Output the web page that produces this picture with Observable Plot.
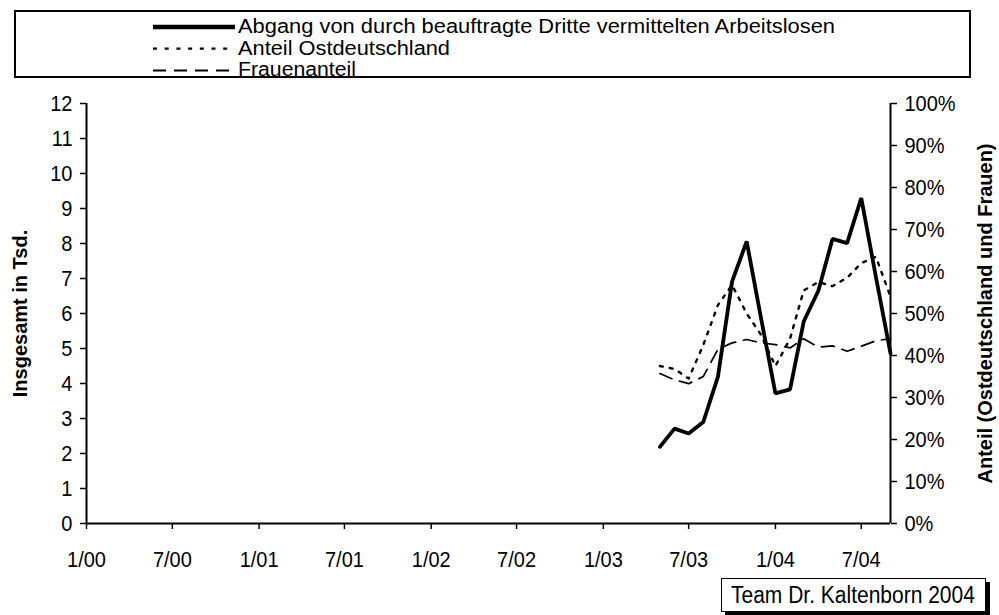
<!DOCTYPE html>
<html><head><meta charset="utf-8">
<script src="https://cdn.jsdelivr.net/npm/d3@7"></script>
<script src="https://cdn.jsdelivr.net/npm/@observablehq/plot@0.6"></script>
<style>
body{margin:0;background:#fff;font-family:"Liberation Sans",Arial,sans-serif;}
#wrap{position:relative;width:999px;height:615px;overflow:hidden;background:#fff;}
#wrap svg{position:absolute;left:0;top:0;}
#footer{position:absolute;left:721px;top:578px;width:254px;height:32px;border:1.5px solid #000;background:#fff;box-shadow:4px 4px 0 #000;padding-left:9px;box-sizing:content-box;white-space:nowrap;}
</style></head><body><div id="wrap"></div>
<script>
// Data (monthly, 5/03 .. 9/04)
const months = ["2003-05","2003-06","2003-07","2003-08","2003-09","2003-10","2003-11","2003-12",
                "2004-01","2004-02","2004-03","2004-04","2004-05","2004-06","2004-07","2004-08","2004-09"];
const abgang = [2.19,2.71,2.57,2.90,4.19,6.91,8.06,5.90,3.72,3.83,5.77,6.65,8.13,8.01,9.30,7.05,4.86]; // Tsd.
const anteilOst = [37.5,36.8,34.5,42.5,52.0,56.8,50.0,45.0,37.5,44.0,55.5,57.5,56.5,58.5,62.0,63.5,54.0]; // %
const frauenAnteil = [35.7,34.2,33.3,35.0,41.5,43.0,43.8,43.0,42.6,41.8,44.0,42.0,42.3,41.0,42.2,43.5,44.0]; // %

const xTickDates = ["2000-01","2000-07","2001-01","2001-07","2002-01","2002-07","2003-01","2003-07","2004-01","2004-07"];
const xTickLabels = ["1/00","7/00","1/01","7/01","1/02","7/02","1/03","7/03","1/04","7/04"];
const leftTicks = [0,1,2,3,4,5,6,7,8,9,10,11,12];
const rightTicks = [0,10,20,30,40,50,60,70,80,90,100];

const legendItems = ["Abgang von durch beauftragte Dritte vermittelten Arbeitslosen","Anteil Ostdeutschland","Frauenanteil"];
const leftTitle = "Insgesamt in Tsd.";
const rightTitle = "Anteil (Ostdeutschland und Frauen)";
const footerText = "Team Dr. Kaltenborn 2004";

const parse = d3.utcParse("%Y-%m");
const yMax = 12, pMax = 100;
const rows = months.map((m,i)=>({date:parse(m), abgang:abgang[i], ost:anteilOst[i]*yMax/pMax, frauen:frauenAnteil[i]*yMax/pMax}));
const xTicks = xTickDates.map(parse);
const domainX = [parse("2000-01"), parse("2004-09")];
const FONT = "Liberation Sans, Arial, sans-serif";
const STRETCH = 1.13;

const chart = Plot.plot({
  width:999, height:615,
  marginTop:103, marginBottom:92, marginLeft:86, marginRight:109,
  style:{fontFamily:FONT, fontSize:"20px", color:"#000", background:"transparent"},
  x:{type:"utc", domain:domainX},
  y:{domain:[0,yMax]},
  marks:[
    Plot.axisY({ticks:leftTicks, tickSize:6, tickPadding:8, tickFormat:d=>String(d), label:null, stroke:"#000", strokeWidth:1.5}),
    Plot.axisY({anchor:"right", ticks:rightTicks.map(p=>p*yMax/pMax), tickSize:6, tickPadding:8,
      tickFormat:v=>Math.round(v/yMax*pMax)+"%", label:null, stroke:"#000", strokeWidth:1.5}),
    Plot.axisX({ticks:xTicks, tickSize:6, tickPadding:21, tickFormat:d=>xTickLabels[xTicks.findIndex(t=>+t===+d)], label:null, stroke:"#000", strokeWidth:1.5}),
    Plot.ruleX([domainX[0]], {stroke:"#000", strokeWidth:2}),
    Plot.ruleX([domainX[1]], {stroke:"#000", strokeWidth:2}),
    Plot.ruleY([0], {stroke:"#000", strokeWidth:2}),
    Plot.line(rows, {x:"date", y:"frauen", stroke:"#000", strokeWidth:1.7, strokeDasharray:"13,8"}),
    Plot.line(rows, {x:"date", y:"ost", stroke:"#000", strokeWidth:2.4, strokeDasharray:"3,7"}),
    Plot.line(rows, {x:"date", y:"abgang", stroke:"#000", strokeWidth:3.8, strokeLinejoin:"miter"}),
    Plot.text([leftTitle], {frameAnchor:"left", dx:-66, rotate:-90, textAnchor:"middle", fontWeight:"bold", fontSize:20, fill:"#000"}),
    Plot.text([rightTitle], {frameAnchor:"right", dx:95, rotate:-90, textAnchor:"middle", fontWeight:"bold", fontSize:20, fill:"#000"})
  ]
});
const wrap = document.getElementById("wrap");
wrap.appendChild(chart);

// vertical stretch of horizontal axis labels (as in the reference rendering)
d3.select(chart).selectAll("g[aria-label$='tick label'] text").each(function(){
  const t = this.getAttribute("transform");
  if (t && t.includes("translate")) {
    this.setAttribute("transform", t + ` scale(1,${STRETCH})`);
  } else {
    const x = +this.getAttribute("x") || 0, y = +this.getAttribute("y") || 0;
    this.removeAttribute("x"); this.removeAttribute("y");
    this.setAttribute("transform", `translate(${x},${y}) scale(1,${STRETCH})`);
  }
});

// legend
const ls = d3.select(wrap).append("svg").attr("width",999).attr("height",100);
ls.append("rect").attr("x",15).attr("y",11).attr("width",955).attr("height",66)
  .attr("fill","#fff").attr("stroke","#000").attr("stroke-width",2);
const styles = [{w:4.5,d:null},{w:2.2,d:"4,7.7"},{w:1.8,d:"13,8"}];
const lineY = [27, 48.7, 70.5], baseY = [33, 54.8, 76.4];
const legendWidths = [597, 212, 118];
legendItems.forEach((t,i)=>{
  ls.append("line").attr("x1",153).attr("x2",235).attr("y1",lineY[i]).attr("y2",lineY[i])
    .attr("stroke","#000").attr("stroke-width",styles[i].w).attr("stroke-dasharray",styles[i].d);
  ls.append("text").attr("x",238).attr("y",baseY[i]).attr("font-size",19.4)
    .attr("textLength",legendWidths[i]).attr("lengthAdjust","spacingAndGlyphs")
    .attr("font-family",FONT).text(t);
});

// footer
const ft = document.createElement("div"); ft.id="footer"; wrap.appendChild(ft);
d3.select(ft).append("svg").attr("width",254).attr("height",32).style("position","static")
  .append("text").attr("transform",`translate(0,24) scale(1,1.12)`).attr("font-size",21)
  .attr("font-family",FONT).text(footerText);
</script></body></html>
